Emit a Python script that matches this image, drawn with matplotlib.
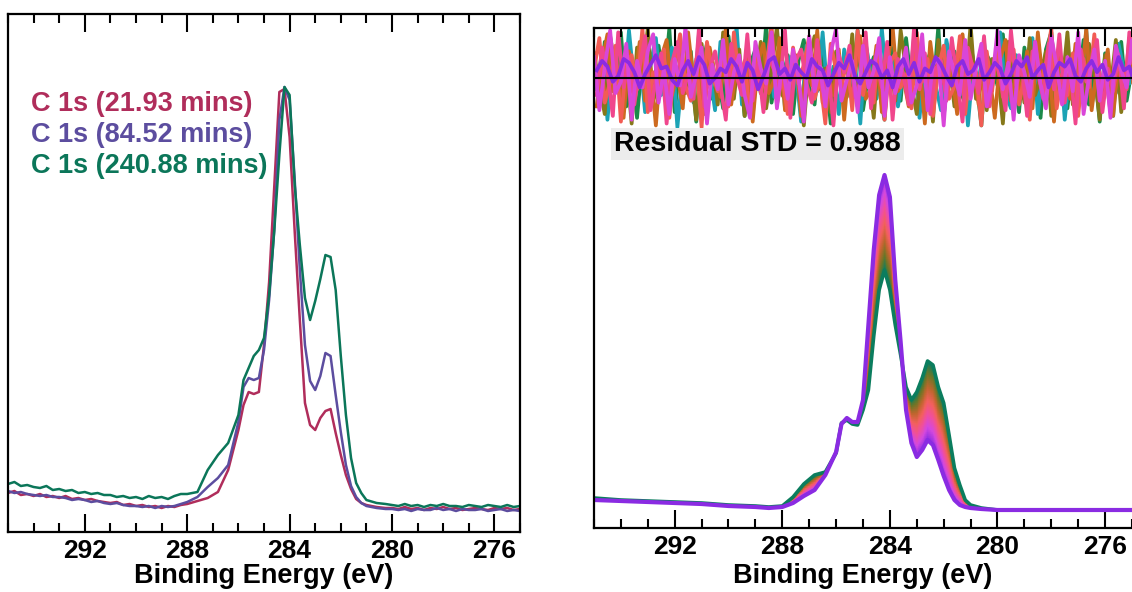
import matplotlib.pyplot as plt
import numpy as np
from matplotlib.colors import LinearSegmentedColormap
from matplotlib.ticker import MultipleLocator

plt.rcParams['font.family'] = ['Liberation Sans', 'DejaVu Sans']
plt.rcParams['font.weight'] = 'bold'
plt.rcParams['font.size'] = 20

# C 1s spectra taken at three times (binding energy in eV, intensity in kcps)
energy = [295.0, 294.75, 294.5, 294.25, 294.0, 293.75, 293.5, 293.25, 293.0, 292.75,
          292.5, 292.25, 292.0, 291.75, 291.5, 291.25, 291.0, 290.75, 290.5, 290.25,
          290.0, 289.75, 289.5, 289.25, 289.0, 288.75, 288.5, 288.25,
          288.0, 287.6, 287.2, 286.8, 286.4, 286.0, 285.8, 285.6, 285.4, 285.2,
          285.0, 284.8, 284.6, 284.4, 284.2, 284.0, 283.8, 283.6, 283.4, 283.2,
          283.0, 282.8, 282.6, 282.4, 282.2, 282.0, 281.8, 281.6, 281.4, 281.2,
          281.0, 280.6,
          280.25, 280.0, 279.75, 279.5, 279.25, 279.0, 278.75, 278.5, 278.25, 278.0,
          277.75, 277.5, 277.25, 277.0, 276.75, 276.5, 276.25, 276.0, 275.75, 275.5,
          275.25, 275.0]
c1s_21min = [3.9, 4.1, 3.7, 3.8, 3.6, 3.8, 3.5, 3.6, 3.4, 3.6,
             3.3, 3.4, 3.2, 3.3, 3.1, 3.0, 2.9, 3.0, 2.7, 2.8,
             2.6, 2.7, 2.5, 2.6, 2.4, 2.6, 2.5, 2.7,
             2.8, 3.1, 3.4, 4.0, 6.2, 10.2, 12.7, 14.0, 13.8, 14.0,
             18.7, 25.0, 34.5, 44.0, 44.3, 39.5, 30.0, 21.2, 12.9, 10.7,
             10.2, 11.4, 12.1, 12.3, 9.9, 7.7, 5.7, 4.3, 3.3, 2.9,
             2.7, 2.5,
             2.4, 2.4, 2.3, 2.5, 2.3, 2.4, 2.2, 2.4, 2.3, 2.5,
             2.3, 2.4, 2.2, 2.3, 2.4, 2.3, 2.2, 2.4, 2.3, 2.4,
             2.2, 2.3]
c1s_84min = [4.1, 3.9, 4.0, 3.8, 3.7, 3.6, 3.7, 3.5, 3.5, 3.4,
             3.2, 3.3, 3.2, 3.0, 3.1, 2.9, 2.8, 2.9, 2.7, 2.6,
             2.6, 2.5, 2.6, 2.4, 2.6, 2.5, 2.6, 2.8,
             3.0, 3.5, 4.5, 5.4, 6.7, 11.0, 14.5, 15.4, 15.2, 15.4,
             18.2, 23.2, 30.2, 41.2, 44.5, 43.2, 35.2, 26.2, 18.7, 15.1,
             14.2, 15.6, 17.9, 17.6, 13.7, 10.0, 6.7, 4.6, 3.5, 2.9,
             2.6, 2.4,
             2.3, 2.3, 2.2, 2.3, 2.1, 2.3, 2.2, 2.2, 2.4, 2.2,
             2.3, 2.1, 2.3, 2.2, 2.2, 2.3, 2.1, 2.2, 2.3, 2.1,
             2.2, 2.1]
c1s_240min = [4.8, 5.0, 4.6, 4.7, 4.5, 4.4, 4.6, 4.2, 4.3, 4.1,
              4.2, 3.9, 4.0, 3.8, 3.9, 3.7, 3.7, 3.5, 3.6, 3.4,
              3.5, 3.3, 3.6, 3.4, 3.5, 3.3, 3.6, 3.8,
              3.8, 4.0, 6.2, 7.7, 8.9, 11.7, 15.2, 16.4, 17.6, 18.2,
              19.4, 23.7, 30.1, 37.7, 44.5, 43.7, 34.7, 28.7, 23.4, 21.2,
              23.1, 25.3, 27.7, 27.5, 24.2, 17.6, 11.7, 7.4, 4.9, 3.9,
              3.2, 2.9,
              2.8, 2.7, 2.6, 2.8, 2.6, 2.7, 2.5, 2.7, 2.6, 2.8,
              2.6, 2.6, 2.5, 2.7, 2.6, 2.5, 2.7, 2.6, 2.5, 2.7,
              2.5, 2.6]
spectra = [c1s_21min, c1s_84min, c1s_240min]
labels = ['C 1s (21.93 mins)', 'C 1s (84.52 mins)', 'C 1s (240.88 mins)']
colors = ['#b02d5b', '#5c4d9f', '#0b7659']

# fitted envelopes: first and last frame of the series
fit_energy = [295, 294, 293, 292, 291, 290, 289, 288.5,
              288.0, 287.6, 287.2, 286.8, 286.4, 286.0, 285.8, 285.6, 285.4, 285.2,
              285.0, 284.8, 284.6, 284.4, 284.2, 284.0, 283.8, 283.6, 283.4, 283.2,
              283.0, 282.8, 282.6, 282.4, 282.2, 282.0, 281.8, 281.6, 281.4, 281.2,
              281.0, 280.6, 280.0, 279, 278, 277, 276, 275, 274]
fit_first = [3.0, 2.8, 2.7, 2.6, 2.5, 2.3, 2.2, 2.1,
             2.2, 3.1, 4.4, 5.3, 5.6, 7.5, 10.5, 10.8, 10.4, 10.3,
             11.8, 13.8, 19.2, 23.8, 25.8, 23.8, 20.3, 17.3, 14.1, 12.8,
             13.6, 15.0, 16.7, 16.3, 14.1, 12.5, 9.3, 6.0, 4.3, 2.8,
             2.3, 2.0, 1.8, 1.8, 1.8, 1.8, 1.8, 1.8, 1.8]
fit_last = [2.8, 2.7, 2.6, 2.5, 2.4, 2.2, 2.1, 2.0,
            2.1, 2.5, 3.2, 3.8, 5.3, 7.6, 10.4, 11.0, 10.6, 10.6,
            12.8, 20.3, 27.8, 33.3, 35.3, 33.1, 24.8, 18.6, 11.8, 8.5,
            7.1, 7.8, 8.8, 8.3, 6.8, 5.2, 3.8, 2.8, 2.3, 2.1,
            2.0, 1.9, 1.8, 1.8, 1.8, 1.8, 1.8, 1.8, 1.8]
band_colors = ['#0b7d5e', '#6f7526', '#c0652e', '#f2605c', '#f04f9c', '#d348df', '#8a2be2']

# fit residuals, two interleaved channel grids (0.2 eV steps)
res_energy_a = np.linspace(295, 274, 106)
res_energy_b = np.linspace(294.9, 273.9, 106)
res_green = [0.8, -1.2, 1.9, 0.3, -0.7, 2.4, -1.5, 0.6, -2.1, 1.1, 0.2, -0.9, 1.7, -0.4, 2.6, -1.8, 0.9, -0.3, 1.4, -2.3,
             0.5, 1.8, -1.1, 0.1, -1.6, 2.2, -0.6, 1.0, -2.0, 0.7, 1.5, -0.8, 2.8, -1.3, 0.4, -0.2, 1.2, -1.9, 0.9, 2.0,
             -0.5, -1.4, 1.6, 0.3, -2.4, 1.3, -0.1, 0.8, -1.0, 2.5, -1.7, 0.2, 1.1, -0.6, -2.2, 1.9, 0.6, -1.2, 2.1, -0.3,
             0.4, -1.5, 1.0, -0.9, 2.7, -2.0, 0.5, 1.4, -0.7, -1.3, 1.8, 0.0, -2.5, 1.2, 0.7, -0.4, 2.3, -1.1, 0.3, -1.8,
             1.6, -0.2, 0.9, -2.1, 1.5, 2.4, -1.0, 0.1, -1.6, 1.1, -0.5, 2.0, -1.4, 0.6, -2.3, 1.3, 0.2, -0.8, 1.9, -1.2,
             0.5, -0.3, 1.7, -1.9, 0.8, 2.2]
res_teal = [-0.6, 1.4, -2.2, 0.9, 0.2, -1.1, 2.5, -0.4, 1.2, -1.8, 0.7, 2.1, -0.9, -0.1, 1.6, -2.6, 0.5, 1.0, -1.3, 2.3,
            -0.8, 0.3, -1.7, 1.9, 0.6, -0.5, 2.7, -1.4, 0.1, -2.0, 1.3, -0.2, 0.8, -1.0, 2.0, -1.6, 1.1, 0.4, -2.3, 1.7,
            0.0, -0.7, 2.4, -1.2, 0.6, -1.9, 1.5, -0.3, 0.9, -2.4, 1.8, 0.2, -1.1, 2.6, -0.6, 1.0, -1.5, 0.3, -0.9, 2.2,
            -2.1, 0.7, 1.3, -0.4, -1.7, 2.0, 0.5, -1.0, 1.6, -2.5, 0.8, -0.2, 1.9, -1.3, 0.4, 2.4, -0.8, -1.6, 1.2, 0.1,
            -0.5, 2.1, -1.9, 0.9, 0.3, -1.2, 1.7, -2.2, 0.6, 1.4, -0.7, 2.5, -1.4, 0.2, -0.9, 1.0, -2.0, 1.8, 0.4, -0.3,
            2.3, -1.5, 0.7, -1.1, 1.5, -0.6]
res_olive = [1.3, -0.4, -1.9, 2.2, 0.5, -1.0, 0.8, -2.4, 1.6, 0.1, 2.6, -1.2, -0.3, 1.1, -1.7, 0.6, 2.0, -0.8, 0.3, -2.2,
             1.8, -0.5, 0.9, -1.4, 2.4, 0.2, -1.1, 1.5, -2.0, 0.7, -0.2, 1.9, -1.6, 0.4, 2.7, -0.9, -1.3, 1.2, 0.0, -2.5,
             1.0, 2.2, -0.6, 0.5, -1.8, 1.4, -0.1, -1.0, 2.3, -1.5, 0.8, 0.3, -2.1, 1.7, -0.7, 1.1, -1.2, 2.5, 0.4, -0.4,
             -1.9, 1.3, 0.6, -2.3, 2.0, -0.3, 0.9, -1.5, 1.6, -0.8, 2.8, -1.1, 0.2, -1.7, 1.0, 0.5, -2.4, 1.9, -0.2, 0.7,
             -1.3, 2.1, -0.9, 0.1, 1.4, -2.0, 0.6, -0.5, 2.4, -1.4, 0.8, -1.0, 1.8, 0.3, -2.2, 1.2, -0.6, 2.0, -1.8, 0.4,
             1.1, -0.7, 2.6, -1.2, 0.0, -1.6]
res_orange = [-1.5, 0.9, 2.3, -0.7, 0.2, -2.1, 1.4, -0.3, 1.9, -1.2, 0.5, -2.5, 1.1, 2.0, -0.9, 0.3, -1.6, 2.4, -0.2, 0.8,
              -1.9, 1.6, 0.1, -1.0, 2.6, -1.4, 0.6, -0.5, 1.3, -2.3, 0.9, 1.8, -0.8, -0.1, 2.1, -1.7, 0.4, 1.2, -2.0, 0.7,
              -0.4, 2.5, -1.3, 0.3, -0.9, 1.5, -2.2, 1.0, 0.2, 2.2, -1.1, -0.6, 1.7, -1.8, 0.5, 2.7, -0.7, 0.0, -1.5, 1.3,
              0.8, -2.4, 1.9, -0.3, 1.1, -1.0, 0.4, -1.9, 2.3, -0.5, 0.6, -1.4, 1.6, 0.2, -2.1, 1.0, 2.0, -1.2, 0.3, -0.8,
              1.4, -1.6, 2.4, -0.4, 0.7, -2.3, 1.2, 0.1, -1.1, 1.8, -0.6, 2.6, -1.7, 0.5, -0.2, 1.5, -2.0, 0.9, -0.9, 2.1,
              -1.3, 0.4, 1.7, -2.2, 0.6, -0.1]
res_coral = [0.4, 2.1, -1.3, -0.2, 1.7, -2.3, 0.8, 1.2, -0.6, 2.6, -1.8, 0.3, -0.9, 1.5, -2.1, 0.6, 2.3, -0.4, -1.2, 1.0,
             -2.6, 1.9, 0.2, -0.7, 1.4, -1.5, 2.4, -0.1, 0.9, -2.0, 1.2, -0.8, 0.5, 2.8, -1.4, 0.1, -1.9, 1.6, -0.3, 0.7,
             2.2, -1.1, 0.0, -2.4, 1.8, 0.4, -0.6, 1.1, -1.7, 2.5, -0.9, 0.6, -1.3, 2.0, -2.2, 0.8, 1.3, -0.5, 0.2, -1.6,
             2.4, -0.2, 1.0, -2.0, 0.5, 1.7, -1.1, -0.4, 2.2, -1.9, 0.9, 0.3, -2.5, 1.4, -0.7, 2.0, -1.0, 0.6, 1.5, -1.4,
             0.1, -2.2, 1.9, -0.3, 0.8, 2.6, -1.6, 0.2, -0.9, 1.3, -2.0, 1.0, -0.5, 2.3, -1.2, 0.4, -1.8, 1.6, 0.7, -0.6,
             2.1, -1.5, 0.3, 1.1, -2.3, 0.9]
res_pink = [-0.9, 1.6, 0.3, -2.0, 2.4, -0.5, 1.0, -1.4, 0.6, 2.2, -1.7, -0.1, 1.3, -2.4, 0.8, 1.9, -0.8, 0.2, -1.1, 2.6,
            -1.5, 0.5, 1.4, -0.4, -2.2, 1.8, 0.1, -0.9, 2.3, -1.2, 0.7, -1.8, 1.1, 0.4, -0.6, 2.5, -2.1, 0.9, 1.5, -0.3,
            -1.3, 2.0, -0.7, 0.6, -2.5, 1.2, 0.3, 1.7, -1.0, -0.2, 2.4, -1.6, 0.8, -0.5, 1.9, -2.2, 1.0, 0.2, -1.4, 2.7,
            -0.6, 1.3, -1.9, 0.5, 0.9, -1.2, 2.1, -0.1, -2.3, 1.6, 0.4, -0.8, 2.2, -1.5, 1.1, 0.0, -1.7, 2.5, -0.4, 0.7,
            -2.0, 1.4, 0.3, -1.1, 1.8, -0.6, 2.3, -1.3, 0.6, -2.4, 1.5, -0.2, 0.9, 2.0, -1.8, 0.5, -0.7, 1.2, -1.6, 2.4,
            0.1, -1.0, 1.7, -0.4, -2.1, 1.3]
res_magenta = [1.1, -1.7, 0.6, 2.5, -0.8, -0.2, 1.8, -2.2, 0.9, -0.5, 1.4, 2.3, -1.3, 0.4, -1.9, 1.0, -0.4, 2.7, -1.0, 0.2,
               1.6, -2.4, 0.7, -0.6, 2.0, -1.4, 0.3, 1.2, -0.9, -2.1, 1.9, 0.5, -0.3, 2.4, -1.6, 0.8, -1.1, 1.5, 0.0, -2.3,
               2.2, -0.7, 0.6, -1.5, 1.3, 2.6, -1.2, -0.1, 0.9, -1.8, 1.7, -0.5, 0.4, 2.1, -2.0, 1.1, -0.8, 0.2, 1.6, -1.3,
               -0.4, 2.3, -1.7, 0.7, 1.0, -2.5, 1.4, 0.1, -0.9, 2.0, -1.1, 0.5, 1.8, -1.5, -0.2, 2.5, -0.6, 0.8, -2.2, 1.2,
               0.3, -1.0, 1.9, -0.3, -1.6, 2.2, 0.6, -1.4, 1.1, -0.7, 2.4, -1.9, 0.0, 1.5, -1.2, 0.9, -2.1, 1.7, 0.4, -0.5,
               2.0, -1.3, 0.7, -0.9, 1.4, -1.8]
res_purple = [0.4, 0.9, 0.6, -0.2, 0.1, 1.0, 0.8, 0.3, -0.5, 0.2, 0.7, 1.2, 0.5, 0.6, -0.1, -0.4, 0.4, 0.9, 0.2, 1.1,
              0.7, -0.3, 0.0, 0.5, 0.3, 1.0, 0.6, -0.2, 0.8, 0.4, -0.6, 0.1, 0.9, 1.1, 0.2, 0.5, -0.1, 0.7, 0.3, 0.0,
              1.0, 0.6, 0.4, -0.4, 0.2, 0.8, 0.5, 1.2, 0.1, -0.3, 0.3, 0.9, 0.7, 0.0, 0.4, -0.5, 0.6, 1.0, 0.2, 0.8,
              -0.2, 0.5, 0.3, 1.1, 0.7, 0.1, -0.4, 0.6, 0.9, 0.2, 0.4, 1.0, -0.1, 0.3, 0.8, 0.5, -0.3, 0.2, 0.9, 0.6,
              1.1, 0.0, 0.4, 0.7, -0.5, 0.3, 0.8, 0.6, 1.0, 0.1, -0.2, 0.5, 0.9, 0.3, 0.7, -0.1, 0.2, 1.1, 0.4, 0.6,
              -0.3, 0.8, 0.5, 0.0, 0.9, 0.3]
residuals = [res_green, res_teal, res_olive, res_orange, res_coral, res_pink, res_magenta, res_purple]
res_colors = ['#1b8a4a', '#1ca3b5', '#86781a', '#cd6a1f', '#f25c54', '#f0468c', '#d946d9', '#8b2be2']
res_std = 0.988


def style_axis(ax, pad):
    ax.set_xlim(295, 275)
    ax.xaxis.set_major_locator(MultipleLocator(4))
    ax.xaxis.set_minor_locator(MultipleLocator(1))
    ax.tick_params(which='both', direction='in', top=True, bottom=True,
                   left=False, labelleft=False, width=1.5, pad=5, labelsize=19)
    ax.tick_params(which='major', length=13)
    ax.tick_params(which='minor', length=6.5)
    for s in ax.spines.values():
        s.set_linewidth(1.6)
    ax.set_xlabel('Binding Energy (eV)', fontsize=19.5, fontweight='bold', labelpad=pad)


fig = plt.figure(figsize=(11.32, 5.92), dpi=100)

# left: measured spectra
ax1 = fig.add_axes([8 / 1132, 60 / 592, 512 / 1132, 518 / 592])
for y, c in zip(spectra, colors):
    ax1.plot(energy, y, color=c, lw=1.8)
style_axis(ax1, 0)
ax1.set_ylim(0, 51.8)
for k, (lab, c) in enumerate(zip(labels, colors)):
    ax1.text(0.045, 0.826 - k * 0.06, lab, color=c, transform=ax1.transAxes,
             fontsize=19.5, fontweight='bold', va='center', ha='left')

# right: fitted envelopes with residuals on top
ax2 = fig.add_axes([594 / 1132, 64 / 592, 538 / 1132, 500 / 592])
style_axis(ax2, 3)
ax2.set_ylim(0, 50)
ax2.spines['right'].set_visible(False)

fe = np.array(fit_energy)[::-1]
f0 = np.array(fit_first)[::-1]
f1 = np.array(fit_last)[::-1]
ef = np.linspace(288.6, 280.0, 500)
yf = np.linspace(0, 40, 600)
g = np.interp(ef, fe, f0)[None, :]
p = np.interp(ef, fe, f1)[None, :]
Y = yf[:, None]
den = np.where(np.abs(p - g) < 1e-6, 1e-6, p - g)
t = (Y - g) / den
t = np.ma.masked_where((Y - g) * (Y - p) > 0, np.clip(t, 0, 1))
band_cmap = LinearSegmentedColormap.from_list('band', band_colors)
ax2.pcolormesh(ef, yf, t, cmap=band_cmap, vmin=0, vmax=1, shading='nearest', rasterized=True)
ax2.plot(fit_energy, fit_first, color=band_colors[0], lw=2.6)
ax2.plot(fit_energy, fit_last, color=band_colors[-1], lw=3.0)

ax2.text(0.037, 0.768, f'Residual STD = {res_std:.3f}', transform=ax2.transAxes,
         fontsize=20.5, fontweight='bold', va='center', ha='left',
         bbox=dict(facecolor='#ececec', edgecolor='none', pad=2))

axr = fig.add_axes([594 / 1132, 432 / 592, 538 / 1132, 132 / 592])
axr.set_xlim(295, 275)
axr.set_ylim(-4.32, 2.63)
axr.axis('off')
for k, (r, c) in enumerate(zip(residuals, res_colors)):
    grid = res_energy_a if k % 2 == 0 else res_energy_b
    axr.plot(grid, r, color=c, lw=2.7)
axr.axhline(0, color='black', lw=1.5)

axr.set_zorder(1)
ax2.set_zorder(2)
ax2.patch.set_visible(False)

fig.savefig('out.png', dpi=100, facecolor='white')
